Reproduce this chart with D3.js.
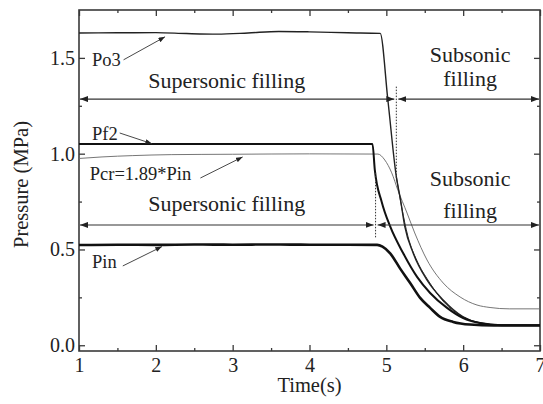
<!DOCTYPE html>
<html>
<head>
<meta charset="utf-8">
<script src="https://cdn.jsdelivr.net/npm/d3@7"></script>
<style>
  body { margin: 0; background: #fff; }
  svg { display: block; }
</style>
</head>
<body>
<div id="chart"></div>
<script>
// curves: [time (s), pressure (MPa)]
const po3Curve = [[1, 1.63], [1.5, 1.631], [2, 1.632], [2.4, 1.627], [2.8, 1.624], [3.2, 1.63], [3.6, 1.638],
  [4, 1.636], [4.5, 1.631], [4.92, 1.628], [5.02, 1.28], [5.13, 0.88], [5.18, 0.77], [5.24, 0.62],
  [5.35, 0.48], [5.53, 0.34], [5.74, 0.236], [6.0, 0.148], [6.22, 0.116], [6.5, 0.105], [7, 0.104]];
const outletCurve = [[5.13, 0.88], [5.2, 0.72], [5.28, 0.57], [5.4, 0.44], [5.55, 0.335], [5.75, 0.225],
  [6.0, 0.148], [6.25, 0.114], [6.5, 0.105], [7, 0.104]];
const pf2Curve = [[1, 1.05], [2, 1.05], [3, 1.05], [4, 1.051], [4.82, 1.05], [4.85, 0.915], [4.94, 0.748],
  [5.05, 0.62], [5.22, 0.48], [5.4, 0.357], [5.57, 0.273], [5.79, 0.195], [6.0, 0.142], [6.22, 0.116],
  [6.5, 0.105], [7, 0.104]];
const pcrCurve = [[1, 0.975], [1.3, 0.983], [1.7, 0.99], [2.2, 0.995], [3, 0.997], [4, 0.999], [4.89, 0.998],
  [4.98, 0.967], [5.07, 0.9], [5.15, 0.81], [5.27, 0.69], [5.37, 0.586], [5.53, 0.445], [5.74, 0.325],
  [5.96, 0.252], [6.18, 0.21], [6.35, 0.197], [6.6, 0.19], [7, 0.19]];
const pinCurve = [[1, 0.523], [1.5, 0.525], [2, 0.524], [2.5, 0.526], [3, 0.525], [3.5, 0.526], [4, 0.525],
  [4.5, 0.525], [4.88, 0.524], [4.95, 0.515], [5.05, 0.48], [5.18, 0.4], [5.31, 0.325], [5.44, 0.247],
  [5.57, 0.195], [5.7, 0.148], [5.87, 0.122], [6.09, 0.108], [6.4, 0.103], [7, 0.103]];

const xMajorTicks = [1, 2, 3, 4, 5, 6, 7];
const xMinorTicks = [1.5, 2.5, 3.5, 4.5, 5.5, 6.5];
const yMajorTicks = [0, 0.5, 1.0, 1.5];
const yMinorTicks = [0.25, 0.75, 1.25];

// filling regimes: arrow level and the switching time
const phaseLevels = [1.285, 0.628];
const phaseSwitch = [5.13, 4.86];
const phaseDotTop = [1.35, 0.9];
const phaseDotBottom = [0.86, 0.56];

// curve labels: text anchor and leader arrow (from -> to)
const labelTexts = ['Po3', 'Pf2', 'Pcr=1.89*Pin', 'Pin'];
const labelAt = [[1.17, 1.458], [1.17, 1.07], [1.14, 0.863], [1.17, 0.403]];
const leaderFrom = [[1.58, 1.49], [1.53, 1.108], [2.58, 0.873], [1.57, 0.414]];
const leaderTo = [[2.12, 1.61], [1.95, 1.052], [3.13, 0.983], [2.08, 0.515]];

const width = 543;
const height = 404;
const margin = { top: 10, right: 3, bottom: 53, left: 79 };
const serif = "'Liberation Serif', 'Times New Roman', serif";

const x = d3.scaleLinear().domain([1, 7]).range([margin.left, 540]);
const y = d3.scaleLinear().domain([-0.03, 1.75]).range([height - margin.bottom, margin.top]);

const svg = d3.select('#chart').append('svg')
  .attr('width', width)
  .attr('height', height)
  .attr('viewBox', [0, 0, width, height])
  .attr('font-family', serif);

const defs = svg.append('defs');
defs.append('marker')
  .attr('id', 'head')
  .attr('viewBox', '0 0 8 6')
  .attr('refX', 8)
  .attr('refY', 3)
  .attr('markerWidth', 8)
  .attr('markerHeight', 6)
  .attr('markerUnits', 'userSpaceOnUse')
  .attr('orient', 'auto-start-reverse')
  .append('path')
  .attr('d', 'M0,0L8,3L0,6z')
  .attr('fill', '#222');
defs.append('marker')
  .attr('id', 'smallHead')
  .attr('viewBox', '0 0 8 6')
  .attr('refX', 8)
  .attr('refY', 3)
  .attr('markerWidth', 7)
  .attr('markerHeight', 5)
  .attr('markerUnits', 'userSpaceOnUse')
  .attr('orient', 'auto')
  .append('path')
  .attr('d', 'M0,0L8,3L0,6z')
  .attr('fill', '#222');

/* AXES */

const axisColor = '#3a3a3a';
const plotBottom = height - margin.bottom;

const styleAxis = (g) => g
  .attr('font-family', serif)
  .attr('font-size', 20)
  .call(() => g.select('.domain').remove())
  .call(() => g.selectAll('.tick line').attr('stroke', axisColor).attr('stroke-width', 1.3))
  .call(() => g.selectAll('.tick text').attr('fill', '#222').attr('font-family', serif));

svg.append('g')
  .attr('transform', `translate(0, ${plotBottom})`)
  .call(d3.axisBottom(x).tickValues(xMajorTicks).tickSize(-6).tickPadding(7).tickFormat(d3.format('d')))
  .call(styleAxis);
svg.append('g')
  .attr('transform', `translate(0, ${plotBottom})`)
  .call(d3.axisBottom(x).tickValues(xMinorTicks).tickSize(-3).tickFormat(''))
  .call(styleAxis);
svg.append('g')
  .attr('transform', `translate(0, ${margin.top})`)
  .call(d3.axisTop(x).tickValues(xMajorTicks).tickSize(-6).tickFormat(''))
  .call(styleAxis);
svg.append('g')
  .attr('transform', `translate(0, ${margin.top})`)
  .call(d3.axisTop(x).tickValues(xMinorTicks).tickSize(-3).tickFormat(''))
  .call(styleAxis);

svg.append('g')
  .attr('transform', `translate(${margin.left}, 0)`)
  .call(d3.axisLeft(y).tickValues(yMajorTicks).tickSize(-6).tickPadding(4).tickFormat(d3.format('.1f')))
  .call(styleAxis);
svg.append('g')
  .attr('transform', `translate(${margin.left}, 0)`)
  .call(d3.axisLeft(y).tickValues(yMinorTicks).tickSize(-3).tickFormat(''))
  .call(styleAxis);
svg.append('g')
  .attr('transform', `translate(${x(7)}, 0)`)
  .call(d3.axisRight(y).tickValues(yMajorTicks).tickSize(-6).tickFormat(''))
  .call(styleAxis);
svg.append('g')
  .attr('transform', `translate(${x(7)}, 0)`)
  .call(d3.axisRight(y).tickValues(yMinorTicks).tickSize(-3).tickFormat(''))
  .call(styleAxis);

svg.append('rect')
  .attr('x', x(1))
  .attr('y', y(1.75))
  .attr('width', x(7) - x(1))
  .attr('height', y(-0.03) - y(1.75))
  .attr('fill', 'none')
  .attr('stroke', axisColor)
  .attr('stroke-width', 1.6);

svg.append('text')
  .attr('x', (x(1) + x(7)) / 2)
  .attr('y', 392)
  .attr('text-anchor', 'middle')
  .attr('font-size', 20.5)
  .attr('fill', '#222')
  .text('Time(s)');

svg.append('text')
  .attr('transform', `translate(28, ${(y(1.75) + y(-0.03)) / 2 + 4}) rotate(-90)`)
  .attr('text-anchor', 'middle')
  .attr('font-size', 20.5)
  .attr('fill', '#222')
  .text('Pressure (MPa)');

/* CURVES */

const line = d3.line()
  .x((d) => x(d[0]))
  .y((d) => y(d[1]))
  .curve(d3.curveMonotoneX);

const curves = [
  { data: pcrCurve, color: '#666', w: 0.9 },
  { data: outletCurve, color: '#333', w: 1.0 },
  { data: po3Curve, color: '#222', w: 1.4 },
  { data: pf2Curve, color: '#111', w: 2.0 },
  { data: pinCurve, color: '#111', w: 2.6 },
];

svg.append('g')
  .selectAll('path')
  .data(curves)
  .join('path')
  .attr('d', (d) => line(d.data))
  .attr('fill', 'none')
  .attr('stroke', (d) => d.color)
  .attr('stroke-width', (d) => d.w);

/* FILLING REGIMES */

const phases = svg.append('g');
phaseLevels.forEach((lvl, i) => {
  const sw = phaseSwitch[i];
  phases.append('line')
    .attr('x1', x(1) + 1).attr('x2', x(sw) - 2)
    .attr('y1', y(lvl)).attr('y2', y(lvl))
    .attr('stroke', '#333').attr('stroke-width', 1.1)
    .attr('marker-start', 'url(#head)')
    .attr('marker-end', 'url(#head)');
  phases.append('line')
    .attr('x1', x(sw) + 2).attr('x2', x(7) - 1)
    .attr('y1', y(lvl)).attr('y2', y(lvl))
    .attr('stroke', '#333').attr('stroke-width', 1.1)
    .attr('marker-start', 'url(#head)')
    .attr('marker-end', 'url(#head)');
  phases.append('line')
    .attr('x1', x(sw)).attr('x2', x(sw))
    .attr('y1', y(phaseDotTop[i])).attr('y2', y(phaseDotBottom[i]))
    .attr('stroke', '#333').attr('stroke-width', 1)
    .attr('stroke-dasharray', '1.5,1.5');
});

const bigText = (t, v, txt, anchor) => svg.append('text')
  .attr('x', x(t))
  .attr('y', y(v))
  .attr('text-anchor', anchor)
  .attr('font-size', 22)
  .attr('fill', '#222')
  .text(txt);

bigText(1.9, 1.343, 'Supersonic filling', 'start');
bigText(6.09, 1.478, 'Subsonic', 'middle');
bigText(6.09, 1.355, 'filling', 'middle');
bigText(1.9, 0.7, 'Supersonic filling', 'start');
bigText(6.09, 0.829, 'Subsonic', 'middle');
bigText(6.09, 0.666, 'filling', 'middle');

/* CURVE LABELS */

labelTexts.forEach((txt, i) => {
  svg.append('text')
    .attr('x', x(labelAt[i][0]))
    .attr('y', y(labelAt[i][1]))
    .attr('font-size', 18.5)
    .attr('fill', '#222')
    .text(txt);
  svg.append('line')
    .attr('x1', x(leaderFrom[i][0])).attr('y1', y(leaderFrom[i][1]))
    .attr('x2', x(leaderTo[i][0])).attr('y2', y(leaderTo[i][1]))
    .attr('stroke', '#333').attr('stroke-width', 0.9)
    .attr('marker-end', 'url(#smallHead)');
});
</script>
</body>
</html>
